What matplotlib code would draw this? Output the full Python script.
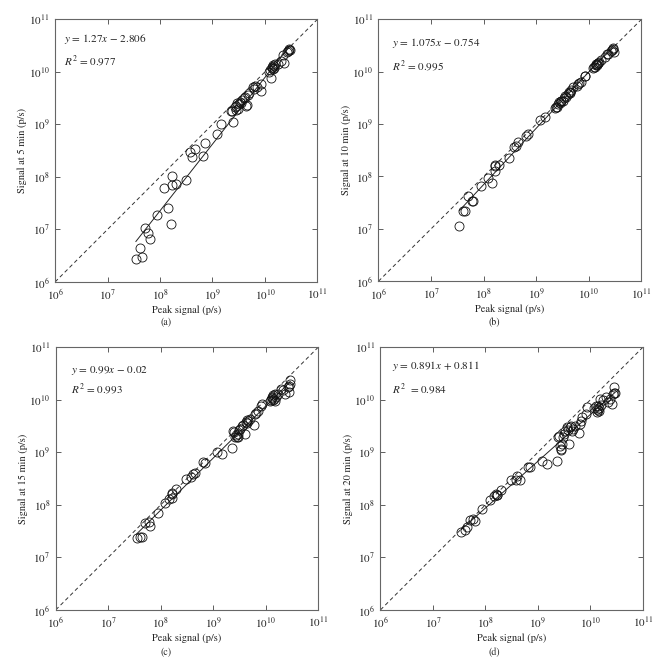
import numpy as np
import matplotlib
matplotlib.use('Agg')
import matplotlib.pyplot as plt

plt.rcParams['font.family'] = ['STIXGeneral', 'Liberation Serif', 'DejaVu Serif']
plt.rcParams['mathtext.fontset'] = 'stix'

# log10 of peak signal (p/s), shared by all four panels
peak_log10 = [7.54, 7.61, 7.65, 7.71, 7.77, 7.80, 7.94, 8.08, 8.16, 8.21, 8.22, 8.22,
              8.30, 8.49, 8.58, 8.61, 8.66, 8.81, 8.85, 9.08, 9.17, 9.36, 9.40,
              9.38, 9.42, 9.44, 9.45, 9.47, 9.48, 9.50, 9.52, 9.55, 9.57, 9.60, 9.62,
              9.64, 9.65, 9.67, 9.70, 9.78, 9.80, 9.82, 9.85, 9.92, 9.93, 10.08, 10.10,
              10.12, 10.13, 10.14, 10.15, 10.16, 10.17, 10.18, 10.20, 10.24, 10.30,
              10.34, 10.37, 10.42, 10.44, 10.45, 10.46, 10.47]

# log10 of signal at 5, 10, 15 and 20 min
sig5_log10 = [6.44, 6.65, 6.47, 7.02, 6.94, 6.81, 7.28, 7.79, 7.40, 7.11, 7.85, 8.02,
              7.87, 7.94, 8.47, 8.37, 8.54, 8.39, 8.64, 8.81, 9.00, 9.26, 9.04,
              9.25, 9.33, 9.28, 9.35, 9.41, 9.30, 9.38, 9.43, 9.40, 9.47, 9.50, 9.52,
              9.35, 9.37, 9.56, 9.60, 9.72, 9.67, 9.74, 9.72, 9.77, 9.63, 10.00, 10.04,
              9.88, 10.08, 10.10, 10.05, 10.13, 10.12, 10.07, 10.15, 10.15, 10.20,
              10.32, 10.16, 10.38, 10.40, 10.43, 10.41, 10.42]
sig10_log10 = [7.06, 7.34, 7.34, 7.62, 7.53, 7.54, 7.82, 7.98, 7.87, 8.10, 8.20, 8.22,
               8.21, 8.36, 8.57, 8.58, 8.65, 8.77, 8.82, 9.07, 9.14, 9.30, 9.32,
               9.32, 9.38, 9.42, 9.40, 9.44, 9.45, 9.45, 9.49, 9.53, 9.52, 9.58, 9.62,
               9.62, 9.60, 9.66, 9.70, 9.72, 9.76, 9.79, 9.80, 9.91, 9.92, 10.07, 10.10,
               10.09, 10.12, 10.15, 10.13, 10.14, 10.17, 10.16, 10.18, 10.22, 10.28,
               10.33, 10.34, 10.40, 10.42, 10.46, 10.44, 10.38]
sig15_log10 = [7.36, 7.38, 7.39, 7.65, 7.67, 7.59, 7.84, 8.03, 8.11, 8.13, 8.20, 8.22,
               8.31, 8.49, 8.54, 8.59, 8.60, 8.81, 8.79, 9.00, 8.96, 9.08, 9.39,
               9.40, 9.30, 9.33, 9.30, 9.30, 9.35, 9.42, 9.45, 9.50, 9.52, 9.35, 9.58,
               9.56, 9.62, 9.60, 9.64, 9.52, 9.73, 9.75, 9.78, 9.88, 9.92, 9.98, 10.00,
               10.03, 10.05, 10.10, 10.00, 10.02, 10.12, 9.98, 10.06, 10.12, 10.20,
               10.18, 10.12, 10.25, 10.27, 10.15, 10.30, 10.38]
sig20_log10 = [7.49, 7.52, 7.57, 7.72, 7.74, 7.70, 7.92, 8.09, 8.17, 8.20, 8.18, 8.19,
               8.29, 8.48, 8.48, 8.55, 8.47, 8.73, 8.73, 8.83, 8.77, 8.84, 9.32,
               9.30, 9.13, 9.06, 9.05, 9.15, 9.29, 9.35, 9.40, 9.48, 9.42, 9.16, 9.48,
               9.51, 9.41, 9.45, 9.50, 9.36, 9.54, 9.60, 9.67, 9.73, 9.86, 9.85, 9.89,
               9.83, 9.76, 9.80, 9.88, 9.78, 9.84, 10.02, 9.90, 10.00, 10.05,
               9.95, 10.02, 9.92, 10.12, 10.13, 10.25, 10.14]

panel_names = ['(a)', '(b)', '(c)', '(d)']
y_labels = ['Signal at 5 min (p/s)', 'Signal at 10 min (p/s)',
            'Signal at 15 min (p/s)', 'Signal at 20 min (p/s)']
slopes = [1.27, 1.075, 0.99, 0.891]
intercepts = [-2.806, -0.754, -0.02, 0.811]
eq_texts = ['$y$ = 1.27$x$ \u2212 2.806', '$y$ = 1.075$x$ \u2212 0.754',
            '$y$ = 0.99$x$ \u2212 0.02', '$y$ = 0.891$x$ + 0.811']
r2_texts = ['$R^2$ = 0.977', '$R^2$ = 0.995', '$R^2$ = 0.993', '$R^2$  = 0.984']

signals = [sig5_log10, sig10_log10, sig15_log10, sig20_log10]
axes_rects = [[0.083, 0.578, 0.395, 0.393], [0.570, 0.579, 0.396, 0.392],
              [0.084, 0.087, 0.395, 0.393], [0.573, 0.087, 0.395, 0.393]]
text_pos = [(0.035, 0.925, 0.838), (0.05, 0.91, 0.82),
            (0.058, 0.911, 0.838), (0.045, 0.93, 0.838)]
label_pos = [(0.25, 0.517), (0.745, 0.517), (0.25, 0.024), (0.745, 0.024)]

fig = plt.figure(figsize=(6.64, 6.68), dpi=100)
x = 10 ** np.array(peak_log10)

for i in range(4):
    ax = fig.add_axes(axes_rects[i])
    y = 10 ** np.array(signals[i])
    ax.plot([1e6, 1e11], [1e6, 1e11], color='#333333', lw=0.7, ls=(0, (4, 3)))
    lx = np.array([min(peak_log10), max(peak_log10)])
    ax.plot(10 ** lx, 10 ** (slopes[i] * lx + intercepts[i]), color='#222222', lw=0.7)
    ax.plot(x, y, 'o', mfc='none', mec='#111111', ms=6.5, mew=0.6)
    ax.set_xscale('log')
    ax.set_yscale('log')
    ax.set_xlim(1e6, 1e11)
    ax.set_ylim(1e6, 1e11)
    ax.xaxis.set_minor_locator(matplotlib.ticker.NullLocator())
    ax.yaxis.set_minor_locator(matplotlib.ticker.NullLocator())
    ax.set_xticks([1e6, 1e7, 1e8, 1e9, 1e10, 1e11])
    ax.set_yticks([1e6, 1e7, 1e8, 1e9, 1e10, 1e11])
    ax.tick_params(direction='in', top=True, right=True, length=3.5, width=0.6,
                   colors='#444444', labelcolor='#222222', labelsize=8, pad=4)
    for s in ax.spines.values():
        s.set_color('#666666')
        s.set_linewidth(0.8)
    ax.set_xlabel('Peak signal (p/s)', fontsize=7.5, color='#222222', labelpad=2)
    ax.set_ylabel(y_labels[i], fontsize=7.5, color='#222222', labelpad=1)
    tx, ty1, ty2 = text_pos[i]
    ax.text(tx, ty1, eq_texts[i], transform=ax.transAxes, fontsize=8, color='#222222',
            va='center')
    ax.text(tx, ty2, r2_texts[i], transform=ax.transAxes, fontsize=8, color='#222222',
            va='center')
    fig.text(label_pos[i][0], label_pos[i][1], panel_names[i], fontsize=7,
             color='#222222', ha='center', va='center')

fig.savefig('out.png', dpi=100, facecolor='white')
